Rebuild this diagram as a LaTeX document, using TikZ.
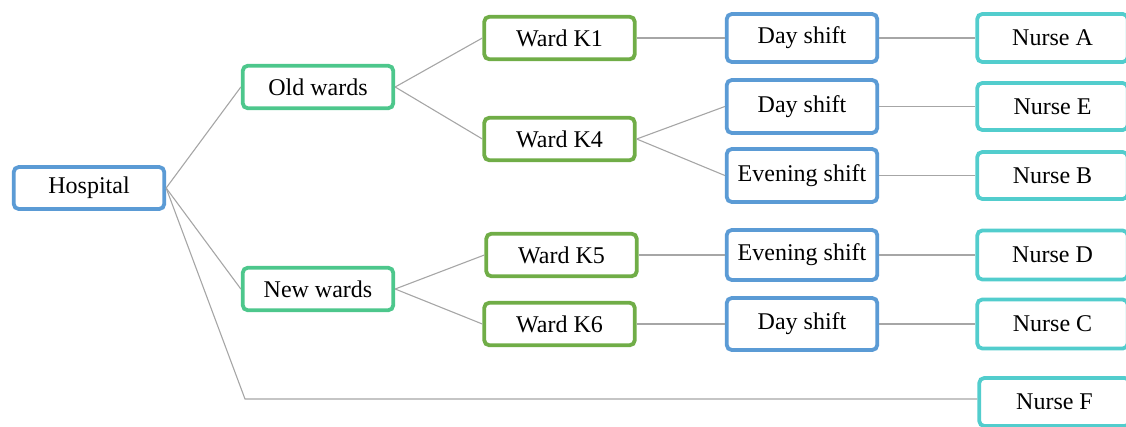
\documentclass[tikz,border=0pt]{standalone}
\usepackage{fontspec}
\setmainfont{Liberation Serif}
\definecolor{rootblue}{HTML}{5B9BD5}
\definecolor{groupgreen}{HTML}{4DC78C}
\definecolor{wardgreen}{HTML}{70AD47}
\definecolor{nursecyan}{HTML}{52CDCD}
\definecolor{linkgray}{HTML}{A6A6A6}
\tikzset{
  box/.style={draw, line width=3.8pt, rounded corners=5pt, fill=white,
    inner sep=0pt, font=\fontsize{24}{28}\selectfont, minimum width=150.5pt},
  rootbox/.style={box, draw=rootblue},
  groupbox/.style={box, draw=groupgreen},
  wardbox/.style={box, draw=wardgreen},
  shiftbox/.style={box, draw=rootblue},
  nursebox/.style={box, draw=nursecyan},
  link/.style={draw=linkgray, line width=1.1pt}
}
\begin{document}
\begin{tikzpicture}[x=1pt, y=-1pt]
\useasboundingbox (0,0) rectangle (1126,426);
\clip (0,0) rectangle (1126,426);

% root
\node[rootbox, minimum height=42pt] (hosp) at (89,188) {Hospital};

% ward groups
\node[groupbox, minimum height=42.5pt] (old) at (318,87) {Old wards};
\node[groupbox, minimum height=42.5pt] (new) at (318,289) {New wards};

% wards
\node[wardbox, minimum height=42.5pt] (k1) at (559.5,38) {Ward K1};
\node[wardbox, minimum height=42.5pt] (k4) at (559.5,139) {Ward K4};
\node[wardbox, minimum height=42.5pt] (k5) at (561.5,255) {Ward K5};
\node[wardbox, minimum height=42.5pt] (k6) at (559.5,324) {Ward K6};

% shifts
\node[shiftbox, minimum height=48pt] (s1) at (802,38) {Day shift};
\node[shiftbox, minimum height=53pt] (s2) at (802,106.5) {Day shift};
\node[shiftbox, minimum height=53pt] (s3) at (802,175.5) {Evening shift};
\node[shiftbox, minimum height=50pt] (s4) at (802,255) {Evening shift};
\node[shiftbox, minimum height=52pt] (s5) at (802,324) {Day shift};

% nurses
\node[nursebox, minimum height=48pt] (na) at (1052.5,38) {Nurse A};
\node[nursebox, minimum height=47pt] (ne) at (1052.5,106.5) {Nurse E};
\node[nursebox, minimum height=47pt] (nb) at (1052.5,175.5) {Nurse B};
\node[nursebox, minimum height=49pt] (nd) at (1052.5,255) {Nurse D};
\node[nursebox, minimum height=49pt] (nc) at (1052.5,324) {Nurse C};
\node[nursebox, minimum height=48pt] (nf) at (1054.5,402) {Nurse F};

\coordinate (bend) at (245,399);

% connectors
\path[link] (hosp.east) -- (old.west);
\path[link] (hosp.east) -- (new.west);
\path[link] (hosp.east) -- (bend) -- (nf.west |- bend);
\path[link] (old.east) -- (k1.west);
\path[link] (old.east) -- (k4.west);
\path[link] (new.east) -- (k5.west);
\path[link] (new.east) -- (k6.west);
\path[link] (k1.east) -- (s1.west);
\path[link] (k4.east) -- (s2.west);
\path[link] (k4.east) -- (s3.west);
\path[link] (k5.east) -- (s4.west);
\path[link] (k6.east) -- (s5.west);
\path[link] (s1.east) -- (na.west);
\path[link] (s2.east) -- (ne.west);
\path[link] (s3.east) -- (nb.west);
\path[link] (s4.east) -- (nd.west);
\path[link] (s5.east) -- (nc.west);
\end{tikzpicture}
\end{document}
